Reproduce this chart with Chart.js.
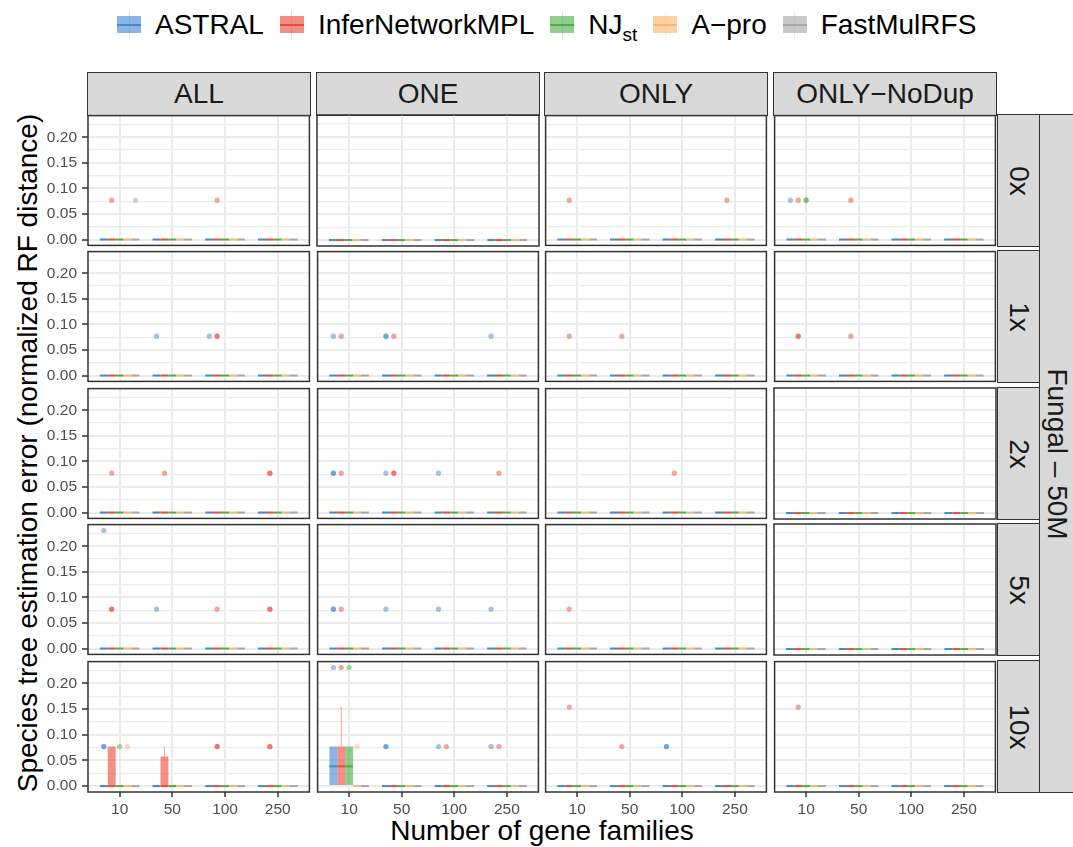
<!DOCTYPE html>
<html><head><meta charset="utf-8">
<script src="https://cdn.jsdelivr.net/npm/chart.js@4.4.1/dist/chart.umd.min.js"></script>
<style>
html,body{margin:0;padding:0;background:#fff;}
body{width:1073px;height:847px;position:relative;overflow:hidden;font-family:"Liberation Sans",Arial,Helvetica,sans-serif;}
canvas{position:absolute;}
.strip{position:absolute;background:#d9d9d9;border:1.2px solid #333;box-sizing:border-box;color:#1a1a1a;font-size:28px;display:flex;align-items:center;justify-content:center;white-space:nowrap;}
.rot{transform:rotate(90deg);white-space:nowrap;}
#legend{position:absolute;left:117px;top:6px;height:38px;display:flex;align-items:center;font-size:28px;color:#000;white-space:nowrap;}
.item{display:flex;align-items:center;margin-right:16px;}
.key{position:relative;width:24px;height:28px;margin-right:14px;}
.key .wh{position:absolute;left:11.5px;top:0;width:1px;height:28px;}
.key .bx{position:absolute;left:0;top:5px;width:24px;height:17px;}
.key .md{position:absolute;left:0;top:12.5px;width:24px;height:2px;}
sub{font-size:19px;vertical-align:-7px;line-height:0;}
#ytitle{position:absolute;left:28px;top:453px;font-size:28px;white-space:nowrap;transform:translate(-50%,-50%) rotate(-90deg);}
#xtitle{position:absolute;left:542px;top:831px;font-size:28px;white-space:nowrap;transform:translate(-50%,-50%);}
</style></head><body>
<div id="legend"></div>
<div id="ytitle">Species tree estimation error (normalized RF distance)</div>
<div id="xtitle">Number of gene families</div>
<script>
// ---------- data ----------
const categories = ['10', '50', '100', '250'];
const methods = ['ASTRAL', 'InferNetworkMPL', 'NJst', 'A-pro', 'FastMulRFS'];
const legendLabels = ['ASTRAL', 'InferNetworkMPL', 'NJ<sub>st</sub>', 'A−pro', 'FastMulRFS'];
const facetCols = ['ALL', 'ONE', 'ONLY', 'ONLY−NoDup'];
const facetRows = ['0x', '1x', '2x', '5x', '10x'];
const outerStrip = 'Fungal – 50M';
const yTickValues = [0, 0.05, 0.10, 0.15, 0.20];
const yTickLabels = ['0.00', '0.05', '0.10', '0.15', '0.20'];
const yGridValues = [0, 0.025, 0.05, 0.075, 0.10, 0.125, 0.15, 0.175, 0.20, 0.225];

// non-degenerate boxes: [row, col, method, category, lower, q1, median, q3, upper]
// every other box is collapsed at 0
const boxes = [
  ['10x', 'ALL', 'InferNetworkMPL', '10', 0, 0, 0, 0.0769, 0.0769],
  ['10x', 'ALL', 'InferNetworkMPL', '50', 0, 0, 0, 0.0577, 0.0769],
  ['10x', 'ONE', 'ASTRAL', '10', 0, 0, 0.0385, 0.0769, 0.0769],
  ['10x', 'ONE', 'InferNetworkMPL', '10', 0, 0, 0.0385, 0.0769, 0.1538],
  ['10x', 'ONE', 'NJst', '10', 0, 0, 0.0385, 0.0769, 0.0769]
];

// outliers: [row, col, method, category, value, count]
const outliers = [
  ['0x', 'ALL', 'InferNetworkMPL', '10', 0.0769, 1],
  ['0x', 'ALL', 'FastMulRFS', '10', 0.0769, 1],
  ['0x', 'ALL', 'InferNetworkMPL', '100', 0.0769, 1],
  ['0x', 'ONLY', 'InferNetworkMPL', '10', 0.0769, 1],
  ['0x', 'ONLY', 'InferNetworkMPL', '250', 0.0769, 1],
  ['0x', 'ONLY−NoDup', 'ASTRAL', '10', 0.0769, 1],
  ['0x', 'ONLY−NoDup', 'InferNetworkMPL', '10', 0.0769, 1],
  ['0x', 'ONLY−NoDup', 'NJst', '10', 0.0769, 2],
  ['0x', 'ONLY−NoDup', 'InferNetworkMPL', '50', 0.0769, 1],

  ['1x', 'ALL', 'ASTRAL', '50', 0.0769, 1],
  ['1x', 'ALL', 'ASTRAL', '100', 0.0769, 1],
  ['1x', 'ALL', 'InferNetworkMPL', '100', 0.0769, 2],
  ['1x', 'ONE', 'ASTRAL', '10', 0.0769, 1],
  ['1x', 'ONE', 'InferNetworkMPL', '10', 0.0769, 1],
  ['1x', 'ONE', 'ASTRAL', '50', 0.0769, 2],
  ['1x', 'ONE', 'InferNetworkMPL', '50', 0.0769, 1],
  ['1x', 'ONE', 'ASTRAL', '250', 0.0769, 1],
  ['1x', 'ONLY', 'InferNetworkMPL', '10', 0.0769, 1],
  ['1x', 'ONLY', 'InferNetworkMPL', '50', 0.0769, 1],
  ['1x', 'ONLY−NoDup', 'InferNetworkMPL', '10', 0.0769, 2],
  ['1x', 'ONLY−NoDup', 'InferNetworkMPL', '50', 0.0769, 1],

  ['2x', 'ALL', 'InferNetworkMPL', '10', 0.0769, 1],
  ['2x', 'ALL', 'InferNetworkMPL', '50', 0.0769, 1],
  ['2x', 'ALL', 'InferNetworkMPL', '250', 0.0769, 2],
  ['2x', 'ONE', 'ASTRAL', '10', 0.0769, 2],
  ['2x', 'ONE', 'InferNetworkMPL', '10', 0.0769, 1],
  ['2x', 'ONE', 'ASTRAL', '50', 0.0769, 1],
  ['2x', 'ONE', 'InferNetworkMPL', '50', 0.0769, 2],
  ['2x', 'ONE', 'ASTRAL', '100', 0.0769, 1],
  ['2x', 'ONE', 'InferNetworkMPL', '250', 0.0769, 1],
  ['2x', 'ONLY', 'InferNetworkMPL', '100', 0.0769, 1],

  ['5x', 'ALL', 'ASTRAL', '10', 0.2308, 1],
  ['5x', 'ALL', 'InferNetworkMPL', '10', 0.0769, 2],
  ['5x', 'ALL', 'ASTRAL', '50', 0.0769, 1],
  ['5x', 'ALL', 'InferNetworkMPL', '100', 0.0769, 1],
  ['5x', 'ALL', 'InferNetworkMPL', '250', 0.0769, 2],
  ['5x', 'ONE', 'ASTRAL', '10', 0.0769, 2],
  ['5x', 'ONE', 'InferNetworkMPL', '10', 0.0769, 1],
  ['5x', 'ONE', 'ASTRAL', '50', 0.0769, 1],
  ['5x', 'ONE', 'ASTRAL', '100', 0.0769, 1],
  ['5x', 'ONE', 'ASTRAL', '250', 0.0769, 1],
  ['5x', 'ONLY', 'InferNetworkMPL', '10', 0.0769, 1],

  ['10x', 'ALL', 'ASTRAL', '10', 0.0769, 2],
  ['10x', 'ALL', 'NJst', '10', 0.0769, 1],
  ['10x', 'ALL', 'A-pro', '10', 0.0769, 1],
  ['10x', 'ALL', 'InferNetworkMPL', '100', 0.0769, 2],
  ['10x', 'ALL', 'InferNetworkMPL', '250', 0.0769, 2],
  ['10x', 'ONE', 'ASTRAL', '10', 0.2308, 1],
  ['10x', 'ONE', 'InferNetworkMPL', '10', 0.2308, 1],
  ['10x', 'ONE', 'NJst', '10', 0.2308, 1],
  ['10x', 'ONE', 'A-pro', '10', 0.0769, 1],
  ['10x', 'ONE', 'ASTRAL', '50', 0.0769, 2],
  ['10x', 'ONE', 'ASTRAL', '100', 0.0769, 1],
  ['10x', 'ONE', 'InferNetworkMPL', '100', 0.0769, 1],
  ['10x', 'ONE', 'ASTRAL', '250', 0.0769, 1],
  ['10x', 'ONE', 'InferNetworkMPL', '250', 0.0769, 1],
  ['10x', 'ONLY', 'InferNetworkMPL', '10', 0.1538, 1],
  ['10x', 'ONLY', 'InferNetworkMPL', '50', 0.0769, 1],
  ['10x', 'ONLY', 'ASTRAL', '100', 0.0769, 2],
  ['10x', 'ONLY−NoDup', 'InferNetworkMPL', '10', 0.1538, 1]
];

// ---------- style / layout ----------
const lineColors = ['#3f88d4', '#ee4a3a', '#4daf4a', '#fdb46e', '#a6a6a6'];
const colX = [88, 317, 545, 774];
const rowY = [115, 251, 388, 524, 661];
const PW = 222, PH = 131;
const Y_MIN = -0.0115, Y_MAX = 0.2423;
const DODGE = 0.75;

function rgba(hex, a) {
  const n = parseInt(hex.slice(1), 16);
  return `rgba(${(n >> 16) & 255},${(n >> 8) & 255},${n & 255},${a})`;
}
const isMajor = v => yTickValues.some(t => Math.abs(t - v) < 1e-9);

Chart.defaults.font.family = '"Liberation Sans", Arial, sans-serif';
Chart.defaults.animation = false;

const boxDetails = {
  id: 'boxDetails',
  afterDatasetsDraw(chart) {
    const ctx = chart.ctx, ys = chart.scales.y;
    chart.data.datasets.forEach((ds, di) => {
      if (ds.type !== 'bar') return;
      const meta = chart.getDatasetMeta(di);
      meta.data.forEach((bar, i) => {
        const st = ds.stats[i];
        const {x, width} = bar.getProps(['x', 'width'], true);
        ctx.save();
        ctx.strokeStyle = ds.whiskerColor;
        ctx.lineWidth = 1;
        if (st.hi > st.q3) { ctx.beginPath(); ctx.moveTo(x, ys.getPixelForValue(st.q3)); ctx.lineTo(x, ys.getPixelForValue(st.hi)); ctx.stroke(); }
        if (st.lo < st.q1) { ctx.beginPath(); ctx.moveTo(x, ys.getPixelForValue(st.q1)); ctx.lineTo(x, ys.getPixelForValue(st.lo)); ctx.stroke(); }
        ctx.strokeStyle = ds.lineColor;
        ctx.lineWidth = 2;
        const ym = ys.getPixelForValue(st.med);
        ctx.beginPath(); ctx.moveTo(x - width / 2, ym); ctx.lineTo(x + width / 2, ym); ctx.stroke();
        ctx.restore();
      });
    });
  }
};
const panelBorder = {
  id: 'panelBorder',
  afterDraw(chart) {
    const {ctx, chartArea: a} = chart;
    ctx.save();
    ctx.strokeStyle = '#333333';
    ctx.lineWidth = 1.5;
    ctx.strokeRect(a.left, a.top, a.right - a.left, a.bottom - a.top);
    ctx.restore();
  }
};

function buildDatasets(r, c) {
  const rowName = facetRows[r], colName = facetCols[c];
  const ds = [];
  methods.forEach((m, mi) => {
    const stats = categories.map(cat => {
      const b = boxes.find(b => b[0] === rowName && b[1] === colName && b[2] === m && b[3] === cat);
      return b ? {lo: b[4], q1: b[5], med: b[6], q3: b[7], hi: b[8]} : {lo: 0, q1: 0, med: 0, q3: 0, hi: 0};
    });
    ds.push({
      type: 'bar', label: m, stats,
      data: stats.map((s, k) => ({x: k + 1, y: [s.q1, s.q3]})),
      backgroundColor: rgba(lineColors[mi], 0.62), borderWidth: 0,
      categoryPercentage: DODGE, barPercentage: 1,
      lineColor: lineColors[mi], whiskerColor: rgba(lineColors[mi], 0.5)
    });
  });
  methods.forEach((m, mi) => {
    const pts = [];
    outliers.filter(o => o[0] === rowName && o[1] === colName && o[2] === m).forEach(o => {
      const k = categories.indexOf(o[3]);
      for (let n = 0; n < o[5]; n++) pts.push({x: k + 1 + (mi - 2) * DODGE / methods.length, y: o[4]});
    });
    ds.push({
      type: 'scatter', label: m + ' outliers', data: pts,
      pointRadius: 2.6, pointHoverRadius: 2.6, pointBorderWidth: 0,
      pointBackgroundColor: rgba(lineColors[mi], 0.5), backgroundColor: rgba(lineColors[mi], 0.5), borderWidth: 0
    });
  });
  return ds;
}

function makePanel(r, c) {
  const left = c === 0, bottom = r === facetRows.length - 1;
  const padL = left ? 60 : 2, padB = bottom ? 34 : 2, padT = 2, padR = 2;
  const cv = document.createElement('canvas');
  const W = PW + padL + padR, H = PH + padT + padB;
  cv.width = W; cv.height = H;
  cv.style.left = (colX[c] - padL) + 'px';
  cv.style.top = (rowY[r] - padT) + 'px';
  cv.style.width = W + 'px'; cv.style.height = H + 'px';
  document.body.appendChild(cv);
  const resetPad = s => { s.paddingLeft = 0; s.paddingRight = 0; s.paddingTop = 0; s.paddingBottom = 0; };
  new Chart(cv, {
    type: 'bar',
    data: {datasets: buildDatasets(r, c)},
    plugins: [boxDetails, panelBorder],
    options: {
      responsive: false, maintainAspectRatio: false, devicePixelRatio: 1, animation: false,
      layout: {padding: {top: padT, right: padR, left: left ? 0 : 2, bottom: bottom ? 0 : 2}},
      plugins: {legend: {display: false}, tooltip: {enabled: false}},
      events: [],
      scales: {
        x: {
          type: 'linear', min: 0.4, max: 4.6, offset: false,
          afterBuildTicks: s => { s.ticks = categories.map((_, k) => ({value: k + 1})); },
          afterFit: s => { s.height = bottom ? 34 : 0; resetPad(s); },
          grid: {offset: false, color: '#ebebeb', lineWidth: 2, drawTicks: bottom, tickLength: 5, tickColor: '#333333', tickWidth: 1.5},
          border: {display: false},
          ticks: {display: bottom, autoSkip: false, maxRotation: 0, padding: 3, color: '#4d4d4d', font: {size: 15.5},
                  callback: v => categories[Math.round(v) - 1]}
        },
        y: {
          type: 'linear', min: Y_MIN, max: Y_MAX, beginAtZero: false,
          afterBuildTicks: s => { s.ticks = yGridValues.map(v => ({value: v})); },
          afterFit: s => { s.width = left ? 60 : 0; resetPad(s); },
          grid: {color: '#ebebeb', lineWidth: ctx => isMajor(ctx.tick.value) ? 2 : 1.2, drawTicks: left, tickLength: 6,
                 tickColor: ctx => isMajor(ctx.tick.value) ? '#333333' : 'rgba(0,0,0,0)', tickWidth: 1.5},
          border: {display: false},
          ticks: {display: left, autoSkip: false, padding: 5, color: '#4d4d4d', font: {size: 15.5},
                  callback: v => { const i = yTickValues.findIndex(t => Math.abs(t - v) < 1e-9); return i >= 0 ? yTickLabels[i] : ''; }}
        }
      }
    }
  });
}

// strips
facetCols.forEach((name, c) => {
  const d = document.createElement('div');
  d.className = 'strip';
  d.style.left = (colX[c] - 1) + 'px'; d.style.top = '72px';
  d.style.width = (PW + 2) + 'px'; d.style.height = '44px';
  d.textContent = name;
  document.body.appendChild(d);
});
facetRows.forEach((name, r) => {
  const d = document.createElement('div');
  d.className = 'strip';
  d.style.left = '997px'; d.style.top = (rowY[r] - 1) + 'px';
  d.style.width = '43px'; d.style.height = (PH + 2) + 'px';
  const s = document.createElement('span'); s.className = 'rot'; s.textContent = name;
  d.appendChild(s);
  document.body.appendChild(d);
});
(function () {
  const d = document.createElement('div');
  d.className = 'strip';
  d.style.left = '1039px'; d.style.top = (rowY[0] - 1) + 'px';
  d.style.width = '36px'; d.style.height = (rowY[rowY.length - 1] + PH - rowY[0] + 2) + 'px';
  const s = document.createElement('span'); s.className = 'rot'; s.textContent = outerStrip;
  d.appendChild(s);
  document.body.appendChild(d);
})();

// legend
const legend = document.getElementById('legend');
methods.forEach((m, mi) => {
  const it = document.createElement('div'); it.className = 'item';
  it.innerHTML = `<span class="key"><i class="wh" style="background:${rgba(lineColors[mi], 0.25)}"></i><i class="bx" style="background:${rgba(lineColors[mi], 0.62)}"></i><i class="md" style="background:${lineColors[mi]}"></i></span><span>${legendLabels[mi]}</span>`;
  legend.appendChild(it);
});

for (let r = 0; r < facetRows.length; r++) for (let c = 0; c < facetCols.length; c++) makePanel(r, c);
</script>
</body></html>
